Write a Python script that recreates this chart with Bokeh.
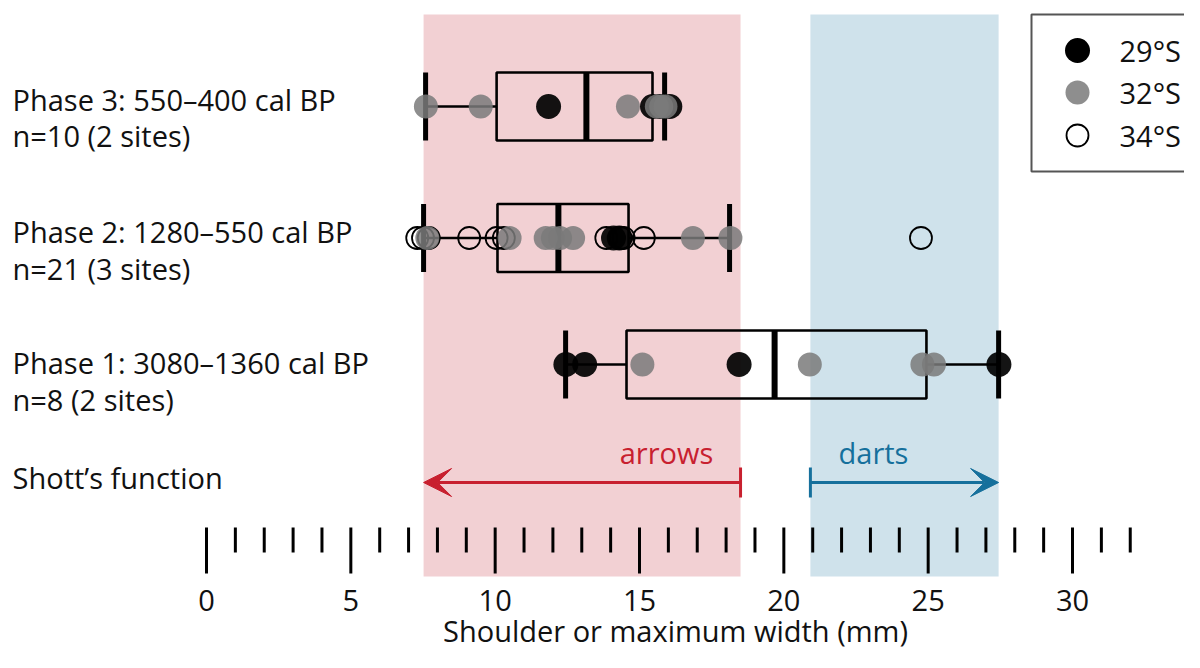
from bokeh.plotting import figure
from bokeh.models import Range1d, ColumnDataSource, Arrow, VeeHead, TeeHead
from bokeh.core.properties import value
from bokeh.embed import file_html
from bokeh.resources import INLINE

# ---------------- data ----------------
phases = ["Phase 3: 550\u2013400 cal BP", "Phase 2: 1280\u2013550 cal BP", "Phase 1: 3080\u20131360 cal BP"]
n_labels = ["n=10 (2 sites)", "n=21 (3 sites)", "n=8 (2 sites)"]

whisker_lo = [7.59, 7.52, 12.44]
q1 = [10.05, 10.08, 14.55]
median = [13.16, 12.19, 19.68]
q3 = [15.45, 14.62, 24.94]
whisker_hi = [15.87, 18.12, 27.44]

# shoulder widths (mm) by phase and latitude
p3_29 = [11.85, 15.45, 15.7, 16.05]
p3_32 = [7.6, 9.5, 14.6, 15.6, 15.75, 15.9]
p3_34 = []
p2_29 = [14.1, 14.3]
p2_32 = [7.65, 10.5, 11.75, 12.0, 12.25, 12.7, 16.85, 18.15]
p2_34 = [7.3, 7.5, 7.7, 9.1, 10.05, 10.3, 13.85, 14.35, 14.45, 15.15, 24.75]
p1_29 = [12.45, 13.1, 18.45, 27.45]
p1_32 = [15.1, 20.9, 24.8, 25.2]
p1_34 = []

latitudes = ["29\u00b0S", "32\u00b0S", "34\u00b0S"]

arrow_range = [7.52, 18.5]
dart_range = [20.92, 27.44]
function_labels = ["arrows", "darts"]

tick_values = list(range(0, 33))
major_ticks = [0, 5, 10, 15, 20, 25, 30]
tick_labels = ["0", "5", "10", "15", "20", "25", "30"]
x_title = "Shoulder or maximum width (mm)"
function_title = "Shott\u2019s function"

# ---------------- layout helpers ----------------
X0_PX, PX_PER_MM = 206.0, 28.867
W, H = 1184, 652


def px(xp):
    return (xp - X0_PX) / PX_PER_MM


FONT = value("Open Sans")
FS = "29px"
TXT = "#111111"
RED = "#c8202f"
BLUE = "#16709c"
PINK = "#f2d0d3"
LBLUE = "#cfe2eb"
GREY = "#7a7a7a"

row_y = [106, 237.5, 364]
half_h = 34

p = figure(width=W, height=H,
           x_range=Range1d(px(0), px(W)), y_range=Range1d(H, 0),
           output_backend="svg", toolbar_location=None,
           x_axis_type=None, y_axis_type=None, min_border=0,
           outline_line_color=None, background_fill_color="white",
           border_fill_color="white")

# bands
p.quad(left=[arrow_range[0], dart_range[0]], right=[arrow_range[1], dart_range[1]],
       top=14, bottom=576, fill_color=[PINK, LBLUE], line_color=None)

# boxes
tops = [y - half_h for y in row_y]
bots = [y + half_h for y in row_y]
p.segment(x0=whisker_lo, x1=q1, y0=row_y, y1=row_y, line_color="black", line_width=2.5)
p.segment(x0=q3, x1=whisker_hi, y0=row_y, y1=row_y, line_color="black", line_width=2.5)
p.quad(left=q1, right=q3, top=tops, bottom=bots, fill_color=None,
       line_color="black", line_width=2.6)
p.segment(x0=whisker_lo, x1=whisker_lo, y0=tops, y1=bots, line_color="black", line_width=5)
p.segment(x0=whisker_hi, x1=whisker_hi, y0=tops, y1=bots, line_color="black", line_width=5)
p.segment(x0=median, x1=median, y0=tops, y1=bots, line_color="black", line_width=6)

# points
groups = {
    "29": [p3_29, p2_29, p1_29],
    "32": [p3_32, p2_32, p1_32],
    "34": [p3_34, p2_34, p1_34],
}


def pts(lists):
    xs, ys = [], []
    for vals, y in zip(lists, row_y):
        xs += vals
        ys += [y] * len(vals)
    return ColumnDataSource(dict(x=xs, y=ys))


p.scatter("x", "y", source=pts(groups["34"]), size=22, fill_color=None,
          line_color="black", line_width=1.8)
p.scatter("x", "y", source=pts(groups["29"]), size=25, fill_color="black",
          fill_alpha=0.92, line_color=None)
p.scatter("x", "y", source=pts(groups["32"]), size=24, fill_color=GREY,
          fill_alpha=0.85, line_color=None)


def label(xs, ys, texts, color=TXT, align="left"):
    p.text(x=xs, y=ys, text=texts, text_font=FONT, text_font_size=FS,
           text_color=color, text_baseline="alphabetic", text_align=align)


# phase labels
lx = px(12)
label([lx] * 3, [99, 231, 362], phases)
label([lx] * 3, [135, 268, 399], n_labels)
label([lx], [477], [function_title])

# Shott's function arrows
p.add_layout(Arrow(start=TeeHead(size=30, line_color=RED, line_width=3),
                   end=VeeHead(size=28, fill_color=RED, line_color=RED),
                   x_start=arrow_range[1], y_start=482, x_end=arrow_range[0], y_end=482,
                   line_color=RED, line_width=3))
p.add_layout(Arrow(start=TeeHead(size=30, line_color=BLUE, line_width=3),
                   end=VeeHead(size=28, fill_color=BLUE, line_color=BLUE),
                   x_start=dart_range[0], y_start=482, x_end=dart_range[1], y_end=482,
                   line_color=BLUE, line_width=3))
label([px(666), px(873)], [452, 452], function_labels, color=[RED, BLUE], align="center")

# ruler ticks
minor = [t for t in tick_values if t not in major_ticks]
p.segment(x0=minor, x1=minor, y0=527, y1=552, line_color="black", line_width=3)
p.segment(x0=major_ticks, x1=major_ticks, y0=527, y1=573, line_color="black", line_width=3)
label(major_ticks, [600] * len(major_ticks), tick_labels, align="center")
label([px(675)], [630], [x_title], align="center")

# legend
p.quad(left=[px(1031)], right=[px(1215)], top=[14], bottom=[171],
       fill_color="white", line_color="#555555", line_width=2)
leg_y = [50, 92, 135]
p.scatter(x=[px(1077)], y=[leg_y[0]], size=25, fill_color="black", line_color=None)
p.scatter(x=[px(1077)], y=[leg_y[1]], size=24, fill_color=GREY, fill_alpha=0.85, line_color=None)
p.scatter(x=[px(1077)], y=[leg_y[2]], size=22, fill_color=None, line_color="black", line_width=1.8)
label([px(1119)] * 3, leg_y, latitudes)

open("out.html", "w").write(file_html(p, INLINE))
